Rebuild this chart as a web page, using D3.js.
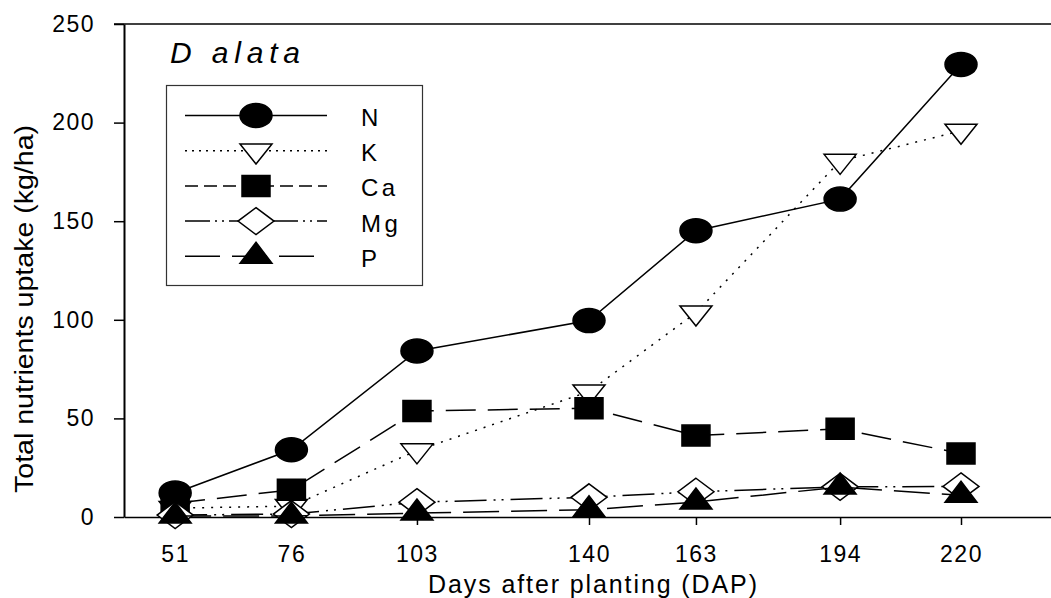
<!DOCTYPE html>
<html><head><meta charset="utf-8">
<script src="https://cdn.jsdelivr.net/npm/d3@7"></script>
<style>
body{margin:0;background:#fff}
svg{display:block;font-family:"Liberation Sans",Arial,sans-serif}
</style></head><body>
<svg id="chart" width="1051" height="598"></svg>
<script>
// days after planting and uptake (kg/ha) per nutrient
const days=[51,76,103,140,163,194,220]
const nVals=[12.2,34.1,84.2,99.6,145.2,161.2,229.5]
const kVals=[4.5,5.5,33.7,63.6,103.6,180.5,195.8]
const caVals=[7,13.8,53.7,55.2,41.3,44.7,32.2]
const mgVals=[1,1.5,7.5,10,12.8,15.3,15.5]
const pVals=[0.5,0.5,2,3.7,7.6,15.2,11]
const names=["N","K","Ca","Mg","P"]
const values={N:nVals,K:kVals,Ca:caVals,Mg:mgVals,P:pVals}
const yTicks=[0,50,100,150,200,250]

const styles={
N:{shape:"ellipse",fill:"#000",dash:null,legendDash:null},
K:{shape:"triDown",fill:"#fff",dash:"2,7",legendDash:"2,5"},
Ca:{shape:"square",fill:"#000",dash:"30,12",legendDash:"13,6"},
Mg:{shape:"diamond",fill:"#fff",dash:"32,7,2,6,2,7",legendDash:"25,5,2,5,2,5"},
P:{shape:"triUp",fill:"#000",dash:"36,12",legendDash:"35,12"}
}

function shapePath(kind){
if(kind==="ellipse") return "M-16,0A16,12 0 1,0 16,0A16,12 0 1,0 -16,0Z"
if(kind==="triDown") return "M-16,-6.7L16,-6.7L0,13.3Z"
if(kind==="square") return "M-14,-10.5L14,-10.5L14,10.5L-14,10.5Z"
if(kind==="diamond") return "M0,-13.5L18,0L0,13.5L-18,0Z"
return "M0,-14L16,7L-16,7Z"
}

let svg=d3.select("#chart")
let x=d3.scaleLinear().domain([40,240]).range([124,1054])
let y=d3.scaleLinear().domain([0,250]).range([517,24])

// top frame line
svg.append("line")
.attr("x1",114).attr("x2",1054)
.attr("y1",y(250)).attr("y2",y(250))
.attr("stroke","#000").attr("stroke-width",1.5)

let yAxis=svg.append("g")
.attr("transform","translate("+x(40)+",0)")
.call(d3.axisLeft(y).tickValues(yTicks).tickSize(10).tickSizeOuter(0).tickPadding(19))
yAxis.select(".domain").attr("stroke-width",2)
yAxis.selectAll(".tick line").attr("stroke-width",1.5)
yAxis.selectAll("text").attr("font-size",23).attr("letter-spacing",1.5)
.attr("font-family","Liberation Sans, Arial, sans-serif").attr("fill","#000")

let xAxis=svg.append("g")
.attr("transform","translate(0,"+y(0)+")")
.call(d3.axisBottom(x).tickValues(days).tickSize(8).tickSizeOuter(0).tickPadding(21))
xAxis.select(".domain").attr("stroke-width",1.5)
xAxis.selectAll(".tick line").attr("stroke-width",1.5)
xAxis.selectAll("text").attr("font-size",23).attr("letter-spacing",1.5)
.attr("font-family","Liberation Sans, Arial, sans-serif").attr("fill","#000")

let line=d3.line().x(d=>x(d[0])).y(d=>y(d[1]))

names.forEach(name=>{
let st=styles[name]
let pts=days.map((d,i)=>[d,values[name][i]])
svg.append("path")
.attr("d",line(pts))
.attr("fill","none").attr("stroke","#000").attr("stroke-width",1.5)
.attr("stroke-dasharray",st.dash)
svg.append("g").selectAll("path")
.data(pts).enter().append("path")
.attr("d",shapePath(st.shape))
.attr("transform",d=>"translate("+x(d[0])+","+y(d[1])+")")
.attr("fill",st.fill).attr("stroke","#000").attr("stroke-width",1.5)
})

// title
svg.append("text")
.attr("x",170).attr("y",63)
.attr("font-size",30).attr("font-style","italic")
.attr("textLength",130).attr("lengthAdjust","spacing")
.text("D alata")

// legend
let lg=svg.append("g")
lg.append("rect")
.attr("x",166.5).attr("y",85.5).attr("width",256).attr("height",200)
.attr("fill","#fff").attr("stroke","#333").attr("stroke-width",1.2)

names.forEach((name,i)=>{
let st=styles[name]
let ry=115.5+i*35.2
lg.append("line")
.attr("x1",185).attr("x2",name==="P"?314:327)
.attr("y1",ry).attr("y2",ry)
.attr("stroke","#000").attr("stroke-width",1.5)
.attr("stroke-dasharray",st.legendDash)
lg.append("path")
.attr("d",shapePath(st.shape))
.attr("transform","translate(256,"+ry+")")
.attr("fill",st.fill).attr("stroke","#000").attr("stroke-width",1.5)
lg.append("text")
.attr("x",361).attr("y",ry+10.5)
.attr("font-size",24).attr("letter-spacing",3.5)
.text(name)
})

// axis titles
svg.append("text")
.attr("x",428).attr("y",593)
.attr("font-size",25)
.attr("textLength",329).attr("lengthAdjust","spacing")
.text("Days after planting (DAP)")

svg.append("text")
.attr("transform","translate(33,309) rotate(-90)")
.attr("text-anchor","middle")
.attr("font-size",25)
.attr("textLength",368).attr("lengthAdjust","spacingAndGlyphs")
.text("Total nutrients uptake (kg/ha)")
</script>
</body></html>
